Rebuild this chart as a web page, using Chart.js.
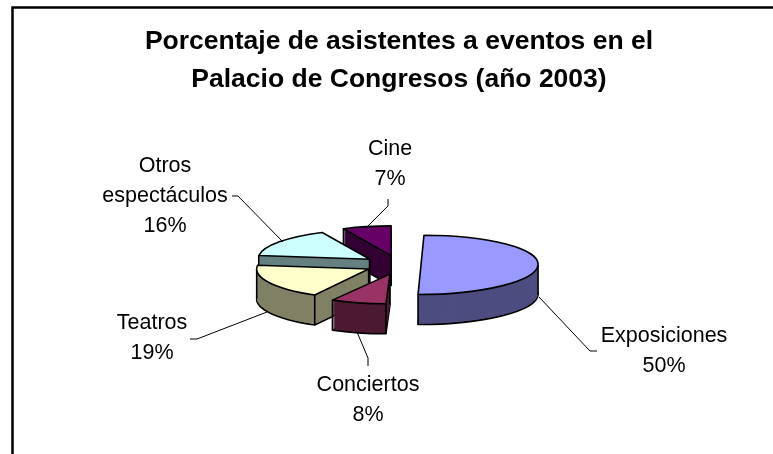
<!DOCTYPE html>
<html>
<head>
<meta charset="utf-8">
<style>
  html, body { margin: 0; padding: 0; background: #fff; overflow: hidden; }
  canvas { display: block; }
</style>
<script src="https://cdn.jsdelivr.net/npm/chart.js@4/dist/chart.umd.js"></script>
</head>
<body>
<canvas id="pie" width="773" height="454"></canvas>
<script>
const categories = ["Exposiciones", "Conciertos", "Teatros", "Otros espectáculos", "Cine"];
const values = [50, 8, 19, 16, 7];
const labelLines = [["Exposiciones"], ["Conciertos"], ["Teatros"], ["Otros", "espectáculos"], ["Cine"]];
const topColors = ["#9999ff", "#993366", "#ffffcc", "#ccffff", "#660066"];
const sideColors = ["#4d4d80", "#4d1a33", "#808066", "#668080", "#330033"];

// fake 3d look
const squash = 0.265;
const depth = 30;
const explode = [22, 36, 34, 36, 36];
const stretch = [1.045, 1, 1, 1, 1];
const lean = [0.1, 0.14, 0, 0, 0];
const drawOrder = [4, 3, 2, 1, 0];

const labelSpots = [[664, 336], [368, 385], [152, 323], [165, 166], [390, 149]];
const labelGap = 30;
const leaders = [
    [[539, 297], [590, 351], [597, 351]],
    [[357, 332], [368, 358], [368, 366]],
    [[267, 312], [197, 339], [190, 339]],
    [[283, 242], [238, 196], [232, 196]],
    [[367, 227], [388, 206], [388, 199]]
];

function sliceMatrix(ctx, arc, i, down) {
    const mid = (arc.startAngle + arc.endAngle) / 2;
    const ex = Math.cos(mid) * explode[i];
    const ey = Math.sin(mid) * explode[i] * squash;
    ctx.translate(arc.x + ex, arc.y + ey + down);
    ctx.transform(stretch[i], 0, -lean[i] * squash, squash, 0, 0);
    ctx.translate(-arc.x, -arc.y);
}

function slicePath(ctx, arc, i, down) {
    ctx.save();
    sliceMatrix(ctx, arc, i, down);
    ctx.beginPath();
    ctx.moveTo(arc.x, arc.y);
    ctx.arc(arc.x, arc.y, arc.outerRadius, arc.startAngle, arc.endAngle);
    ctx.closePath();
    ctx.restore();
}

// vertical wall edge, only if it is not hidden behind the slice's own top face
function edgeAt(ctx, arc, i, angle, radius) {
    ctx.save();
    sliceMatrix(ctx, arc, i, 0);
    const p = ctx.getTransform().transformPoint({
        x: arc.x + Math.cos(angle) * radius,
        y: arc.y + Math.sin(angle) * radius
    });
    ctx.restore();
    slicePath(ctx, arc, i, 0);
    if (ctx.isPointInPath(p.x, p.y + 3)) return;
    ctx.beginPath();
    ctx.moveTo(p.x, p.y);
    ctx.lineTo(p.x, p.y + depth);
    ctx.stroke();
}

const pie3d = {
    id: "pie3d",
    beforeDraw(chart) {
        const ctx = chart.ctx;
        ctx.save();
        ctx.fillStyle = "#fff";
        ctx.fillRect(0, 0, chart.width, chart.height);
        ctx.strokeStyle = "#000";
        ctx.lineWidth = 2.5;
        ctx.strokeRect(12.5, 7.5, chart.width, chart.height);
        ctx.restore();
    },
    beforeDatasetsDraw(chart) {
        const ctx = chart.ctx;
        const arcs = chart.getDatasetMeta(0).data;
        ctx.save();
        ctx.strokeStyle = "#000";
        ctx.lineWidth = 1.6;
        ctx.lineJoin = "round";

        drawOrder.forEach(i => {
            const arc = arcs[i];

            // side wall: bottom outline first, then stacked fills up to the top face
            slicePath(ctx, arc, i, depth);
            ctx.fillStyle = sideColors[i];
            ctx.fill();
            ctx.stroke();
            ctx.fillStyle = sideColors[i];
            for (let d = depth - 1; d > 0; d--) {
                slicePath(ctx, arc, i, d);
                ctx.fill();
            }
            edgeAt(ctx, arc, i, arc.startAngle, arc.outerRadius);
            edgeAt(ctx, arc, i, arc.endAngle, arc.outerRadius);
            edgeAt(ctx, arc, i, arc.startAngle, 0);
            [0, Math.PI, Math.PI * 2].forEach(a => {
                if (a > arc.startAngle && a < arc.endAngle) {
                    edgeAt(ctx, arc, i, a, arc.outerRadius);
                }
            });

            // top face comes from the library's arc element
            ctx.save();
            sliceMatrix(ctx, arc, i, 0);
            arc.draw(ctx);
            ctx.restore();
            slicePath(ctx, arc, i, 0);
            ctx.stroke();
        });
        ctx.restore();
        return false;
    },
    afterDraw(chart) {
        const ctx = chart.ctx;
        ctx.save();
        ctx.strokeStyle = "#000";
        ctx.lineWidth = 1;
        leaders.forEach(points => {
            ctx.beginPath();
            points.forEach((p, n) => {
                if (n === 0) ctx.moveTo(p[0], p[1]);
                else ctx.lineTo(p[0], p[1]);
            });
            ctx.stroke();
        });

        ctx.fillStyle = "#000";
        ctx.font = "21.5px 'Liberation Sans'";
        ctx.textAlign = "center";
        ctx.textBaseline = "middle";
        labelLines.forEach((lines, i) => {
            const [x, y] = labelSpots[i];
            lines.concat(values[i] + "%").forEach((text, n) => {
                ctx.fillText(text, x, y + n * labelGap);
            });
        });
        ctx.restore();
    }
};

new Chart(document.getElementById("pie"), {
    type: "pie",
    plugins: [pie3d],
    data: {
        labels: categories,
        datasets: [{ data: values, backgroundColor: topColors, borderWidth: 0 }]
    },
    options: {
        responsive: false,
        animation: false,
        radius: 112,
        layout: { padding: { left: 25, right: 0, top: 23, bottom: 23 } },
        plugins: {
            legend: { display: false },
            tooltip: { enabled: false },
            title: {
                display: true,
                text: ["Porcentaje de asistentes a eventos en el", "Palacio de Congresos (año 2003)"],
                color: "#000",
                font: { family: "'Liberation Sans'", size: 26.5, weight: "bold", lineHeight: 1.43 },
                padding: 0
            }
        }
    }
});
</script>
</body>
</html>
